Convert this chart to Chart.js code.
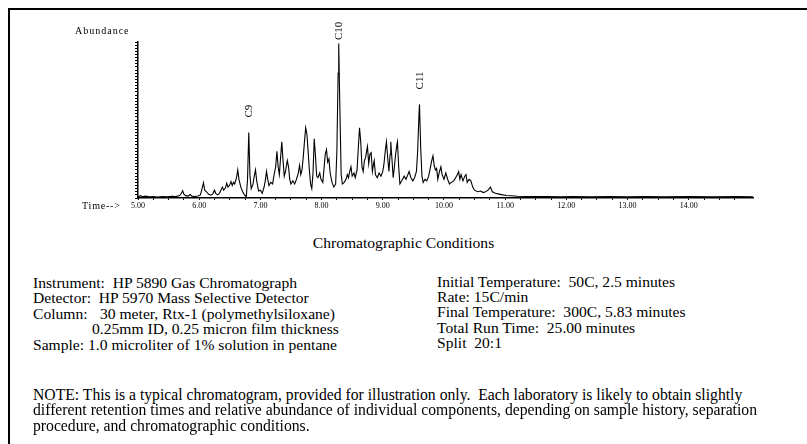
<!DOCTYPE html>
<html>
<head>
<meta charset="utf-8">
<script src="https://cdn.jsdelivr.net/npm/chart.js@4.4.1/dist/chart.umd.min.js"></script>
<style>
  html, body { margin:0; padding:0; background:#fff; }
  body { width:807px; height:444px; position:relative; overflow:hidden; font-family:'Liberation Serif','Times New Roman',serif; color:#000; }
  #frame { position:absolute; left:8px; top:8px; width:810px; height:450px; border-top:2px solid #000; border-left:2px solid #000; z-index:2; }
  #wrap { position:absolute; left:0; top:0; width:807px; height:230px; }
  .t { position:absolute; white-space:pre; font-size:15.6px; line-height:15px; }
  .n { position:absolute; white-space:pre; font-size:15.7px; line-height:16px; }
</style>
</head>
<body>
<div id="frame"></div>
<div id="wrap"><canvas id="c" width="807" height="230"></canvas></div>

<div class="t" style="left:0;width:807px;text-align:center;top:234.5px;">Chromatographic Conditions</div>

<div class="t" style="left:33px;top:275px;">Instrument:  HP 5890 Gas Chromatograph</div>
<div class="t" style="left:33px;top:290.4px;">Detector:  HP 5970 Mass Selective Detector</div>
<div class="t" style="left:33px;top:305.8px;">Column:</div>
<div class="t" style="left:100px;top:305.8px;">30 meter, Rtx-1 (polymethylsiloxane)</div>
<div class="t" style="left:92px;top:321.2px;">0.25mm ID, 0.25 micron film thickness</div>
<div class="t" style="left:33px;top:336.6px;">Sample: 1.0 microliter of 1% solution in pentane</div>

<div class="t" style="left:437px;top:273.5px;">Initial Temperature:  50C, 2.5 minutes</div>
<div class="t" style="left:437px;top:288.9px;">Rate: 15C/min</div>
<div class="t" style="left:437px;top:304.3px;">Final Temperature:  300C, 5.83 minutes</div>
<div class="t" style="left:437px;top:319.7px;">Total Run Time:  25.00 minutes</div>
<div class="t" style="left:437px;top:335.1px;">Split  20:1</div>

<div class="n" style="left:33px;top:386.5px;">NOTE: This is a typical chromatogram, provided for illustration only.  Each laboratory is likely to obtain slightly</div>
<div class="n" style="left:33px;top:402.3px;">different retention times and relative abundance of individual components, depending on sample history, separation</div>
<div class="n" style="left:33px;top:418.1px;">procedure, and chromatographic conditions.</div>

<script>
// ---- data ----
const times = [
  5.00,5.04,5.07,5.12,5.18,5.25,5.32,5.40,5.48,5.55,5.62,5.68,5.71,5.73,5.75,5.78,5.82,5.85,5.88,5.93,
  5.98,6.02,6.05,6.07,6.09,6.12,6.15,6.19,6.22,6.25,6.27,6.30,6.33,6.36,6.38,6.40,6.43,6.45,6.47,6.50,
  6.52,6.54,6.56,6.58,6.61,6.63,6.65,6.68,6.71,6.74,6.77,6.79,6.81,6.83,6.85,6.88,6.90,6.92,6.94,6.97,
  7.00,7.03,7.06,7.08,7.10,7.12,7.14,7.17,7.20,7.22,7.25,7.27,7.29,7.31,7.33,7.35,7.37,7.39,7.41,7.44,
  7.46,7.48,7.50,7.53,7.56,7.59,7.62,7.64,7.66,7.68,7.70,7.72,7.74,7.76,7.78,7.80,7.82,7.84,7.86,7.88,
  7.90,7.92,7.94,7.97,7.99,8.02,8.04,8.06,8.08,8.10,8.12,8.14,8.17,8.20,8.23,8.25,8.27,8.28,8.30,8.32,
  8.34,8.37,8.40,8.42,8.44,8.46,8.48,8.50,8.53,8.55,8.58,8.60,8.62,8.64,8.66,8.68,8.70,8.72,8.74,8.75,
  8.77,8.79,8.81,8.83,8.85,8.86,8.88,8.91,8.94,8.97,9.00,9.02,9.04,9.06,9.08,9.10,9.12,9.13,9.15,9.17,
  9.19,9.21,9.23,9.24,9.26,9.28,9.31,9.35,9.38,9.41,9.43,9.46,9.49,9.52,9.55,9.57,9.59,9.60,9.62,9.64,
  9.66,9.69,9.72,9.75,9.78,9.80,9.82,9.84,9.86,9.88,9.90,9.92,9.95,9.97,10.00,10.03,10.06,10.09,10.12,10.16,
  10.19,10.22,10.24,10.26,10.28,10.31,10.34,10.36,10.38,10.41,10.44,10.47,10.50,10.55,10.60,10.64,10.68,10.72,10.76,10.79,
  10.84,10.90,10.96,11.02,11.10,11.20,11.35,11.50,11.70,11.90,12.10,12.40,12.70,13.00,13.30,13.60,14.00,14.40,14.80,15.05
];
const abundance = [
  0.8,1.5,0.8,1.2,0.7,1.0,0.6,1.0,0.7,1.1,0.9,1.6,3.0,4.7,2.5,1.5,1.2,2.2,1.2,1.0,
  1.3,2.0,6.5,9.8,5.0,4.0,2.5,1.8,2.5,5.0,3.0,2.0,3.0,5.5,7.0,5.0,6.5,9.5,7.0,8.5,
  10.5,8.0,10.0,9.0,13,18,12,7,4,2,0.8,12,42,14,6,9,14,18,11,4.5,
  5,3,7,11,17,12,8,10,9,14,20,30,20,15,26,36,24,14,17,24,
  20,12,9,11,9,12,16,21,15,18,26,36,45,41,30,18,9,6,16,38,
  27,14,13,16,12,10,19,28,31,23,25,16,10,7,9,30,80,99,55,15,
  9,10,12,15,13,17,20,14,16,13,18,32,45,36,20,17,24,26,31,33,
  22,28,29,17,22,24,15,13,16,14,17,22,30,36,26,17,28,36,25,13,
  20,28,34,36,20,9,11,14,12,15,17,13,11,13,17,30,52,60,32,14,
  10,12,11,14,20,24,27,21,18,19,12,16,20,15,12,16,12,9,10,11,
  13,15,17,12,15,11,14,15,10,12,11,7,5,4,4.5,3.5,4,5,7,4,
  3,2.5,2,1.6,1.4,1.1,1.0,0.9,1.0,0.8,0.9,0.8,0.9,0.8,0.9,0.8,0.9,0.8,0.9,0.8
];
const tickLabels = ['5.00','6.00','7.00','8.00','9.00','10.00','11.00','12.00','13.00','14.00'];
const peakNames = ['C9','C10','C11'];
const peakTimes = [6.81, 8.28, 9.60];
const yAxisLabel = 'Abundance';
const xAxisLabel = 'Time-->';

const SERIF = "'Liberation Serif','Times New Roman',serif";

const annotate = {
  id: 'annotate',
  afterDraw(chart) {
    const ctx = chart.ctx, a = chart.chartArea;
    const xs = chart.scales.x, ys = chart.scales.y;
    ctx.save();
    ctx.fillStyle = '#000';
    ctx.font = '10px ' + SERIF;
    ctx.letterSpacing = '1px';
    ctx.textBaseline = 'alphabetic';
    ctx.textAlign = 'left';
    ctx.fillText(yAxisLabel, a.left - 63, a.top - 8);
    ctx.letterSpacing = '0.8px';
    ctx.textBaseline = 'middle';
    ctx.fillText(xAxisLabel, a.left - 56, a.bottom + 8);
    ctx.letterSpacing = '0px';
    ctx.font = '11px ' + SERIF;
    peakNames.forEach((name, i) => {
      const idx = times.indexOf(peakTimes[i]);
      const px = xs.getPixelForValue(peakTimes[i]);
      const py = ys.getPixelForValue(abundance[idx]);
      const bottom = Math.max(py - 15, a.top - 2);
      ctx.save();
      ctx.translate(px + 0.5, bottom);
      ctx.rotate(-Math.PI / 2);
      ctx.textAlign = 'left';
      ctx.textBaseline = 'middle';
      ctx.fillText(name, 0, 0);
      ctx.restore();
    });
    ctx.restore();
  }
};

new Chart(document.getElementById('c'), {
  type: 'line',
  data: {
    datasets: [{
      data: times.map((t, i) => ({ x: t, y: abundance[i] })),
      borderColor: '#000',
      borderWidth: 1.1,
      pointRadius: 0,
      tension: 0,
      fill: false
    }]
  },
  options: {
    responsive: false,
    animation: false,
    events: [],
    layout: { padding: { left: 135, top: 42, right: 54, bottom: 16 } },
    plugins: { legend: { display: false }, tooltip: { enabled: false }, title: { display: false } },
    scales: {
      x: {
        type: 'linear', min: 5, max: 15.05,
        border: { display: true, color: '#000', width: 1.5 },
        grid: { drawOnChartArea: false, drawTicks: true, tickLength: 2, color: '#000', lineWidth: 1 },
        afterBuildTicks: s => { s.ticks = s.ticks.filter(t => t.value <= 15.0001); },
        ticks: {
          stepSize: 0.25, autoSkip: false, maxRotation: 0, minRotation: 0, padding: 1,
          color: '#000', font: { family: SERIF, size: 8 },
          callback: v => {
            const k = Math.round(v * 100);
            return (k % 100 === 0) ? (tickLabels[k / 100 - 5] || '') : '';
          }
        },
        afterFit: s => { s.height = 16; }
      },
      y: {
        type: 'linear', min: 0, max: 100,
        border: { display: true, color: '#000', width: 1.5 },
        grid: { drawOnChartArea: false, drawTicks: true, tickLength: 3, color: '#000', lineWidth: 1 },
        ticks: { display: false, stepSize: 2 },
        afterFit: s => { s.width = 3; }
      }
    }
  },
  plugins: [annotate]
});
</script>
</body>
</html>
